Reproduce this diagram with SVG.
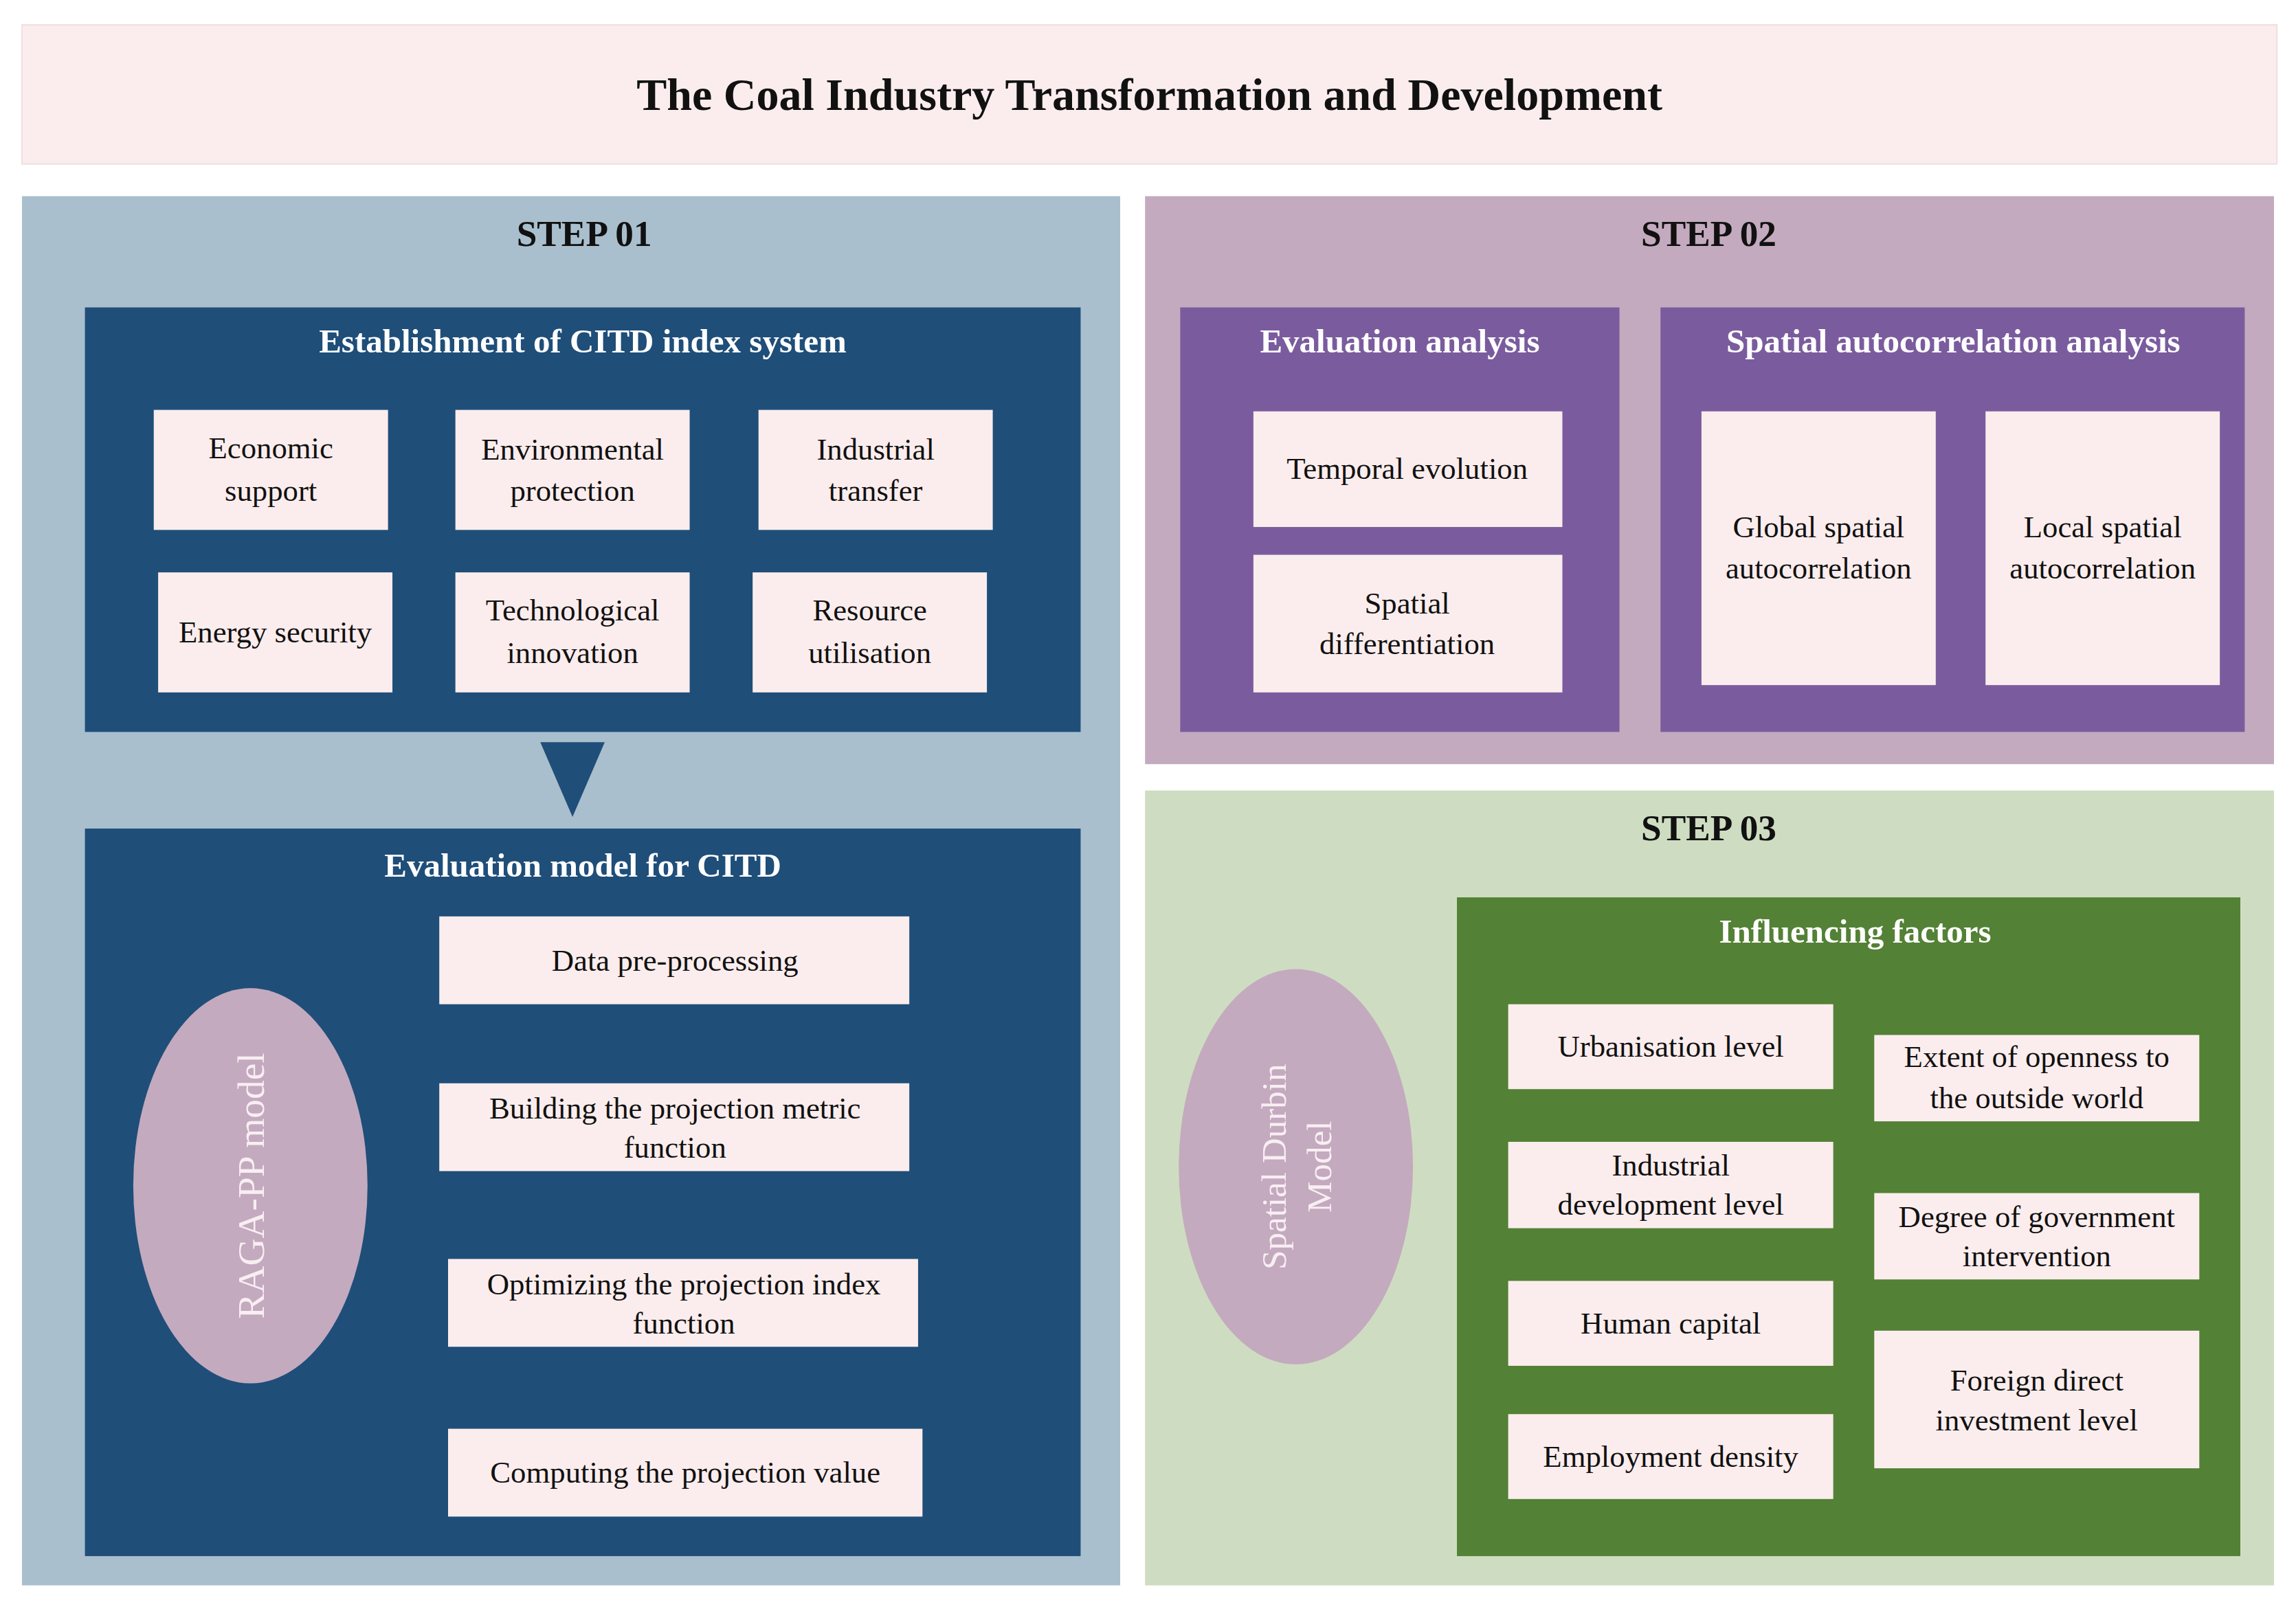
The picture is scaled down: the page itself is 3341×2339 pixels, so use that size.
<svg xmlns="http://www.w3.org/2000/svg" width="3341" height="2339" viewBox="0 0 3341 2339">
<style>
text{font-family:"Liberation Serif","Times New Roman",serif;text-anchor:middle}
.h{font-weight:bold;font-size:25px;fill:#111}
.w{font-weight:bold;font-size:23px;fill:#fff}
.b{font-size:21px;fill:#111}
.pk{fill:#FBEDED}
.ar{fill:none;stroke:#c8ccd4;stroke-width:1.2}
</style>
<rect width="3341" height="2339" fill="#fff"/>
<g transform="scale(2.1307)">
<g id="title"><rect x="15" y="17" width="1540" height="95" fill="#FBEDED" stroke="#f0e0e0"/>
<text x="785" y="75" style="font-weight:bold;font-size:31px;fill:#111">The Coal Industry  Transformation and Development</text></g>
<g id="step01"><rect x="15" y="134" width="750" height="949" fill="#A9BFCE"/><text class="h" x="399" y="168">STEP 01</text></g>
<g id="step02"><rect x="782" y="134" width="771" height="388" fill="#C4AABE"/><text class="h" x="1167" y="168">STEP 02</text></g>
<g id="step03"><rect x="782" y="540" width="771" height="543" fill="#CEDDC1"/><text class="h" x="1167" y="574">STEP 03</text></g>
<g id="citd"><rect x="58" y="210" width="680" height="290" fill="#1F4E79"/><text class="w" x="398" y="241">Establishment of CITD index system</text>
<rect class="pk" x="105" y="280" width="160" height="82"/><text class="b" x="185" y="313">Economic</text><text class="b" x="185" y="342">support</text>
<rect class="pk" x="311" y="280" width="160" height="82"/><text class="b" x="391" y="314">Environmental</text><text class="b" x="391" y="342">protection</text>
<rect class="pk" x="518" y="280" width="160" height="82"/><text class="b" x="598" y="314">Industrial</text><text class="b" x="598" y="342">transfer</text>
<rect class="pk" x="108" y="391" width="160" height="82"/><text class="b" x="188" y="439">Energy security</text>
<rect class="pk" x="311" y="391" width="160" height="82"/><text class="b" x="391" y="424">Technological</text><text class="b" x="391" y="453">innovation</text>
<rect class="pk" x="514" y="391" width="160" height="82"/><text class="b" x="594" y="424">Resource</text><text class="b" x="594" y="453">utilisation</text></g>
<g id="connectors">
<polygon points="369,507 413,507 391,558" fill="#1F4E79"/>
<path class="ar" d="M452,698 h10 v19 h6 l-11,9 l-11,-9 h6 z"/>
<path class="ar" d="M452,819 h10 v19 h6 l-11,9 l-11,-9 h6 z"/>
<path class="ar" d="M452,936 h10 v19 h6 l-11,9 l-11,-9 h6 z"/>
</g>
<g id="evalmodel"><rect x="58" y="566" width="680" height="497" fill="#1F4E79"/><text class="w" x="398" y="599">Evaluation model for  CITD</text>
<ellipse cx="171" cy="810" rx="80" ry="135" fill="#C4AABE"/>
<text transform="translate(180,810) rotate(-90)" style="font-size:26px;fill:#F8EEF3">RAGA-PP model</text>
<rect class="pk" x="300" y="626" width="321" height="60"/><text class="b" x="461" y="663">Data pre-processing</text>
<rect class="pk" x="300" y="740" width="321" height="60"/><text class="b" x="461" y="764">Building the projection metric</text><text class="b" x="461" y="791">function</text>
<rect class="pk" x="306" y="860" width="321" height="60"/><text class="b" x="467" y="884">Optimizing the projection index</text><text class="b" x="467" y="911">function</text>
<rect class="pk" x="306" y="976" width="324" height="60"/><text class="b" x="468" y="1013">Computing the projection value</text></g>
<g id="evalanalysis"><rect x="806" y="210" width="300" height="290" fill="#7A5C9E"/><text class="w" x="956" y="241">Evaluation analysis</text>
<rect class="pk" x="856" y="281" width="211" height="79"/><text class="b" x="961" y="327">Temporal evolution</text>
<rect class="pk" x="856" y="379" width="211" height="94"/><text class="b" x="961" y="419">Spatial</text><text class="b" x="961" y="447">differentiation</text></g>
<g id="spatialauto"><rect x="1134" y="210" width="399" height="290" fill="#7A5C9E"/><text class="w" x="1334" y="241">Spatial autocorrelation analysis</text>
<rect class="pk" x="1162" y="281" width="160" height="187"/><text class="b" x="1242" y="367">Global spatial</text><text class="b" x="1242" y="395">autocorrelation</text>
<rect class="pk" x="1356" y="281" width="160" height="187"/><text class="b" x="1436" y="367">Local spatial</text><text class="b" x="1436" y="395">autocorrelation</text></g>
<g id="durbin"><ellipse cx="885" cy="797" rx="80" ry="135" fill="#C4AABE"/>
<text transform="translate(885,797) rotate(-90)" style="font-size:24px;fill:#F8EEF3"><tspan x="0" y="-7">Spatial Durbin</tspan><tspan x="0" y="24">Model</tspan></text></g>
<g id="factors"><rect x="995" y="613" width="535" height="450" fill="#538135"/><text class="w" x="1267" y="644">Influencing factors</text>
<rect class="pk" x="1030" y="686" width="222" height="58"/><text class="b" x="1141" y="722">Urbanisation level</text>
<rect class="pk" x="1030" y="780" width="222" height="59"/><text class="b" x="1141" y="803">Industrial</text><text class="b" x="1141" y="830">development level</text>
<rect class="pk" x="1030" y="875" width="222" height="58"/><text class="b" x="1141" y="911">Human capital</text>
<rect class="pk" x="1030" y="966" width="222" height="58"/><text class="b" x="1141" y="1002">Employment density</text>
<rect class="pk" x="1280" y="707" width="222" height="59"/><text class="b" x="1391" y="729">Extent of openness to</text><text class="b" x="1391" y="757">the outside world</text>
<rect class="pk" x="1280" y="815" width="222" height="59"/><text class="b" x="1391" y="838">Degree of government</text><text class="b" x="1391" y="865">intervention</text>
<rect class="pk" x="1280" y="909" width="222" height="94"/><text class="b" x="1391" y="950">Foreign direct</text><text class="b" x="1391" y="977">investment level</text></g>
</g>
</svg>
